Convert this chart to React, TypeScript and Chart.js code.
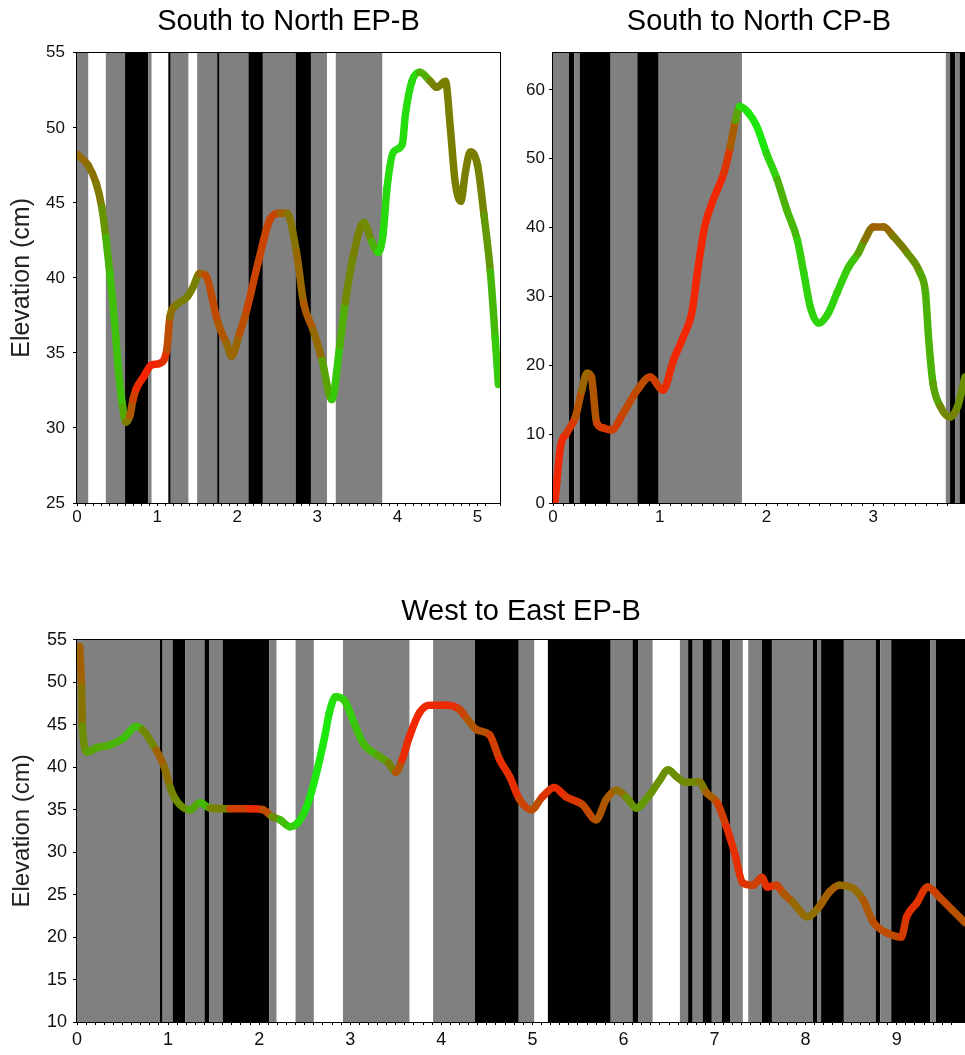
import React, { useEffect, useRef } from "react";
import { Chart, registerables } from "chart.js";
Chart.register(...registerables);

const FONT = "'Liberation Sans', Arial, Helvetica, sans-serif";

// ---------- South to North EP-B ----------
const snEpX = [0.01, 0.14, 0.24, 0.31, 0.36, 0.41, 0.47, 0.52, 0.57, 0.61,
  0.66, 0.70, 0.74, 0.83, 0.93, 1.03, 1.12, 1.16, 1.24, 1.37,
  1.45, 1.53, 1.60, 1.76, 1.87, 1.93, 2.03, 2.12, 2.26, 2.41,
  2.53, 2.62, 2.74, 2.83, 2.95, 3.06, 3.18, 3.28, 3.35, 3.45,
  3.58, 3.68, 3.76, 3.82, 3.87, 3.95, 4.06, 4.10, 4.18, 4.28,
  4.41, 4.49, 4.60, 4.66, 4.72, 4.79, 4.85, 4.91, 5.00, 5.08,
  5.16, 5.22, 5.26];
const snEpY = [48.2, 47.5, 46.3, 44.7, 42.7, 40.3, 37.0, 33.7, 31.4, 30.4,
  30.8, 31.9, 32.6, 33.4, 34.2, 34.3, 35.2, 37.4, 38.2, 38.7,
  39.4, 40.3, 40.2, 37.0, 35.6, 34.8, 36.3, 37.9, 41.0, 43.9,
  44.3, 44.3, 41.7, 38.3, 36.5, 34.5, 31.9, 35.5, 38.4, 41.5,
  43.7, 42.4, 41.7, 42.9, 46.0, 48.4, 48.9, 50.9, 53.1, 53.7,
  53.1, 52.7, 53.1, 50.0, 46.4, 45.1, 47.1, 48.4, 47.5, 44.2,
  40.4, 36.0, 32.9];
const snEpTone = [0.38, 0.42, 0.45, 0.50, 0.70, 0.80, 0.82, 0.82, 0.80, 0.60,
  0.35, 0.25, 0.12, 0.03, 0.03, 0.05, 0.15, 0.35, 0.50, 0.50,
  0.52, 0.50, 0.22, 0.25, 0.35, 0.45, 0.30, 0.22, 0.20, 0.20,
  0.22, 0.45, 0.45, 0.32, 0.30, 0.50, 0.85, 0.85, 0.60, 0.50,
  0.52, 0.60, 0.90, 0.92, 0.95, 0.95, 0.95, 0.95, 0.95, 0.90,
  0.55, 0.50, 0.50, 0.50, 0.50, 0.50, 0.50, 0.50, 0.50, 0.55,
  0.70, 0.85, 0.88];
const snEpBandEdges = [0, 0.14, 0.36, 0.60, 0.89, 0.93, 1.14, 1.17, 1.39, 1.50,
  1.75, 1.78, 2.14, 2.32, 2.73, 2.92, 3.12, 3.23, 3.81, 5.28];
const snEpBandShades = ["g", "w", "g", "b", "g", "w", "b", "g", "w", "g",
  "b", "g", "b", "g", "b", "g", "w", "g", "w"];

// ---------- South to North CP-B ----------
const snCpX = [0.02, 0.07, 0.13, 0.21, 0.27, 0.32, 0.36, 0.41, 0.47, 0.55,
  0.66, 0.79, 0.91, 1.03, 1.13, 1.22, 1.30, 1.36, 1.42, 1.50,
  1.60, 1.66, 1.71, 1.75, 1.83, 1.91, 2.00, 2.10, 2.19, 2.29,
  2.35, 2.41, 2.49, 2.58, 2.66, 2.77, 2.86, 2.92, 3.00, 3.10,
  3.19, 3.32, 3.44, 3.49, 3.52, 3.56, 3.63, 3.72, 3.79, 3.86];
const snCpY = [0.4, 8.1, 10.2, 12.5, 16.4, 18.9, 18.3, 11.6, 10.9, 10.6,
  13.1, 16.4, 18.3, 16.4, 20.8, 24.1, 27.6, 34.3, 40.1, 44.0,
  47.9, 51.7, 55.6, 57.6, 56.7, 54.7, 50.8, 47.0, 42.6, 38.2,
  33.4, 28.5, 26.1, 27.6, 30.5, 34.3, 36.3, 38.2, 40.1, 40.1,
  38.7, 36.3, 33.4, 30.5, 23.7, 17.4, 14.0, 12.5, 14.0, 18.3];
const snCpTone = [0.05, 0.05, 0.08, 0.20, 0.35, 0.40, 0.35, 0.25, 0.15, 0.15,
  0.20, 0.25, 0.25, 0.10, 0.05, 0.05, 0.05, 0.05, 0.05, 0.05,
  0.05, 0.20, 0.45, 0.90, 1.00, 1.00, 1.00, 0.80, 0.70, 0.85,
  0.90, 0.90, 0.90, 0.90, 0.90, 0.85, 0.80, 0.55, 0.35, 0.35,
  0.45, 0.55, 0.65, 0.75, 0.75, 0.75, 0.60, 0.50, 0.55, 0.60];
const snCpBandEdges = [0, 0.15, 0.20, 0.25, 0.54, 0.79, 0.99, 1.77, 3.68, 3.72,
  3.77, 3.81, 3.86];
const snCpBandShades = ["g", "b", "g", "b", "g", "b", "g", "w", "g", "b", "g", "b"];

// ---------- West to East EP-B ----------
const weEpX = [0.03, 0.05, 0.06, 0.11, 0.22, 0.36, 0.51, 0.65, 0.72, 0.87,
  0.96, 1.02, 1.09, 1.24, 1.35, 1.46, 1.68, 1.90, 2.04, 2.14,
  2.23, 2.34, 2.42, 2.52, 2.61, 2.72, 2.77, 2.84, 2.94, 3.05,
  3.15, 3.30, 3.42, 3.50, 3.57, 3.65, 3.76, 3.87, 4.06, 4.20,
  4.29, 4.39, 4.53, 4.64, 4.75, 4.86, 4.99, 5.11, 5.24, 5.37,
  5.55, 5.70, 5.81, 5.92, 6.03, 6.14, 6.29, 6.40, 6.49, 6.58,
  6.69, 6.83, 6.91, 7.03, 7.13, 7.22, 7.31, 7.42, 7.52, 7.58,
  7.68, 7.75, 7.86, 8.02, 8.15, 8.26, 8.37, 8.51, 8.63, 8.74,
  8.89, 9.05, 9.11, 9.22, 9.34, 9.47, 9.61, 9.75];
const weEpY = [54.2, 49.5, 44.8, 41.8, 42.3, 42.6, 43.4, 44.8, 44.4, 42.0,
  40.0, 37.7, 36.1, 35.0, 35.8, 35.2, 35.1, 35.1, 35.0, 34.2,
  33.8, 33.0, 33.4, 35.3, 38.5, 43.6, 46.4, 48.3, 47.8, 45.0,
  42.7, 41.4, 40.5, 39.4, 40.9, 43.6, 46.4, 47.3, 47.3, 46.8,
  45.6, 44.4, 43.8, 40.9, 38.9, 36.2, 35.0, 36.5, 37.6, 36.5,
  35.6, 33.8, 36.2, 37.3, 36.5, 35.2, 36.8, 38.5, 39.7, 38.9,
  38.2, 38.3, 37.0, 35.8, 33.0, 29.9, 26.4, 26.1, 27.0, 25.9,
  26.1, 25.2, 24.1, 22.4, 23.6, 25.3, 26.1, 25.8, 24.4, 21.8,
  20.5, 20.0, 22.4, 24.0, 25.9, 24.7, 23.2, 21.7];
const weEpTone = [0.30, 0.40, 0.50, 0.65, 0.70, 0.72, 0.78, 0.85, 0.75, 0.35,
  0.35, 0.50, 0.55, 0.60, 0.80, 0.75, 0.30, 0.05, 0.10, 0.40,
  0.75, 0.85, 0.90, 1.00, 1.00, 1.00, 1.00, 0.95, 0.90, 0.85,
  0.80, 0.75, 0.60, 0.45, 0.10, 0.05, 0.05, 0.08, 0.05, 0.10,
  0.30, 0.30, 0.25, 0.10, 0.08, 0.10, 0.30, 0.20, 0.05, 0.12,
  0.15, 0.30, 0.30, 0.35, 0.50, 0.65, 0.60, 0.58, 0.60, 0.58,
  0.55, 0.55, 0.40, 0.25, 0.10, 0.08, 0.10, 0.15, 0.20, 0.05,
  0.10, 0.25, 0.35, 0.45, 0.40, 0.30, 0.35, 0.45, 0.35, 0.25,
  0.25, 0.22, 0.10, 0.10, 0.15, 0.20, 0.25, 0.30];
const weEpBandEdges = [0, 0.91, 0.94, 1.05, 1.19, 1.40, 1.45, 1.60, 2.11, 2.19,
  2.40, 2.60, 2.92, 3.65, 3.91, 4.37, 4.85, 5.02, 5.17, 5.86,
  6.10, 6.16, 6.32, 6.62, 6.71, 6.76, 6.87, 6.97, 7.08, 7.17,
  7.31, 7.37, 7.52, 7.63, 8.08, 8.13, 8.17, 8.42, 8.77, 8.82,
  8.94, 9.37, 9.43, 9.75];
const weEpBandShades = ["g", "b", "g", "b", "g", "b", "g", "b", "g", "w",
  "g", "w", "g", "w", "g", "b", "g", "w", "b", "g",
  "b", "g", "w", "g", "b", "g", "b", "g", "b", "g",
  "w", "g", "b", "g", "b", "g", "b", "g", "b", "g",
  "b", "g", "b"];

const titles = ["South to North EP-B", "South to North CP-B", "West to East EP-B"];
const yAxisTitle = "Elevation (cm)";

const SHADE: Record<string, string> = { g: "#808080", b: "#000000", w: "#ffffff" };
const RED = [255, 28, 0];
const OLIVE = [122, 126, 0];
const GREEN = [28, 232, 14];

function mix(t: number): string {
  const tt = Math.max(0, Math.min(1, t));
  let a = RED, b = OLIVE, f = tt * 2;
  if (tt > 0.5) { a = OLIVE; b = GREEN; f = (tt - 0.5) * 2; }
  const c = a.map((v, i) => Math.round(v + (b[i] - v) * f));
  return `rgb(${c[0]},${c[1]},${c[2]})`;
}

function bandsPlugin(edges: number[], shades: string[]) {
  return {
    id: "bands",
    beforeDatasetsDraw(chart: any) {
      const { ctx, chartArea: a } = chart;
      const x = chart.scales.x;
      ctx.save();
      ctx.beginPath();
      ctx.rect(a.left, a.top, a.right - a.left, a.bottom - a.top);
      ctx.clip();
      for (let i = 0; i < shades.length; i++) {
        if (shades[i] === "w") continue;
        const x0 = x.getPixelForValue(edges[i]);
        const x1 = x.getPixelForValue(edges[i + 1]);
        ctx.fillStyle = SHADE[shades[i]];
        ctx.fillRect(x0, a.top, x1 - x0, a.bottom - a.top);
      }
      ctx.restore();
    },
    afterDraw(chart: any) {
      const { ctx, chartArea: a } = chart;
      ctx.save();
      ctx.strokeStyle = "#000";
      ctx.lineWidth = 1;
      ctx.strokeRect(Math.round(a.left) - 0.5, Math.round(a.top) - 0.5,
        Math.round(a.right - a.left) + 1, Math.round(a.bottom - a.top) + 1);
      ctx.restore();
    },
  };
}

interface PanelSpec {
  title: string;
  xs: number[]; ys: number[]; tones: number[];
  edges: number[]; shades: string[];
  xMax: number; yMin: number; yMax: number; yStep: number;
  yAxisW: number; xAxisH: number; titleTop: number; titleBottom: number;
  yTitle: boolean; yTitleSize: number; yTitlePad: number;
  yTickPad: number; xTickPad: number; tickFont: number;
}

function buildConfig(p: PanelSpec): any {
  const isInt = (v: number) => Math.abs(v - Math.round(v)) < 1e-6;
  return {
    type: "line",
    data: {
      datasets: [{
        data: p.xs.map((x, i) => ({ x, y: p.ys[i] })),
        borderWidth: 7.5,
        pointRadius: 0,
        cubicInterpolationMode: "monotone",
        borderCapStyle: "round",
        borderJoinStyle: "round",
        borderColor: mix(p.tones[0]),
        segment: {
          borderColor: (ctx: any) => mix((p.tones[ctx.p0DataIndex] + p.tones[ctx.p1DataIndex]) / 2),
        },
      }],
    },
    options: {
      responsive: false,
      animation: false,
      events: [],
      layout: { padding: { left: 0, right: 10, top: 0, bottom: 0 } },
      plugins: {
        legend: { display: false },
        tooltip: { enabled: false },
        title: {
          display: true, text: p.title, fullSize: false, color: "#000",
          font: { family: FONT, size: 29, weight: "normal", lineHeight: 1.2 },
          padding: { top: p.titleTop, bottom: p.titleBottom },
        },
      },
      scales: {
        x: {
          type: "linear", min: 0, max: p.xMax,
          afterFit: (s: any) => { s.height = p.xAxisH; },
          grid: { drawOnChartArea: false, tickLength: 3, color: "#000", tickColor: "#000" },
          border: { display: true, color: "#000", width: 1 },
          ticks: {
            stepSize: 0.1, autoSkip: false, maxRotation: 0, minRotation: 0,
            padding: p.xTickPad, color: "#111",
            font: { family: FONT, size: p.tickFont },
            callback: (v: number) => (isInt(v) ? String(Math.round(v)) : ""),
          },
        },
        y: {
          type: "linear", min: p.yMin, max: p.yMax,
          afterFit: (s: any) => { s.width = p.yAxisW; },
          grid: { drawOnChartArea: false, tickLength: 4, color: "#000", tickColor: "#000" },
          border: { display: true, color: "#000", width: 1 },
          ticks: {
            stepSize: p.yStep, includeBounds: false, padding: p.yTickPad, color: "#111",
            font: { family: FONT, size: p.tickFont },
            callback: (v: number) => (Math.abs(v % p.yStep) < 1e-6 ? String(v) : ""),
          },
          title: {
            display: p.yTitle, text: yAxisTitle, color: "#222",
            font: { family: FONT, size: p.yTitleSize, lineHeight: 1.2 },
            padding: { top: p.yTitlePad, bottom: 0 },
          },
        },
      },
    },
    plugins: [bandsPlugin(p.edges, p.shades)],
  };
}

const panels: { left: number; top: number; w: number; h: number; spec: PanelSpec }[] = [
  {
    left: 0, top: 0, w: 510, h: 530,
    spec: {
      title: titles[0], xs: snEpX, ys: snEpY, tones: snEpTone,
      edges: snEpBandEdges, shades: snEpBandShades,
      xMax: 5.28, yMin: 25, yMax: 55, yStep: 5,
      yAxisW: 77, xAxisH: 27, titleTop: 5, titleBottom: 13,
      yTitle: true, yTitleSize: 25, yTitlePad: 7,
      yTickPad: 8, xTickPad: 1, tickFont: 17,
    },
  },
  {
    left: 500, top: 0, w: 475, h: 530,
    spec: {
      title: titles[1], xs: snCpX, ys: snCpY, tones: snCpTone,
      edges: snCpBandEdges, shades: snCpBandShades,
      xMax: 3.86, yMin: 0, yMax: 65.4, yStep: 10,
      yAxisW: 53, xAxisH: 27, titleTop: 5, titleBottom: 13,
      yTitle: false, yTitleSize: 25, yTitlePad: 7,
      yTickPad: 4, xTickPad: 1, tickFont: 17,
    },
  },
  {
    left: 0, top: 580, w: 975, h: 475,
    spec: {
      title: titles[2], xs: weEpX, ys: weEpY, tones: weEpTone,
      edges: weEpBandEdges, shades: weEpBandShades,
      xMax: 9.75, yMin: 10, yMax: 55, yStep: 5,
      yAxisW: 77, xAxisH: 33, titleTop: 15, titleBottom: 10,
      yTitle: true, yTitleSize: 24, yTitlePad: 8,
      yTickPad: 6, xTickPad: 4, tickFont: 18,
    },
  },
];

function Panel({ left, top, w, h, spec }: { left: number; top: number; w: number; h: number; spec: PanelSpec }) {
  const ref = useRef<HTMLCanvasElement | null>(null);
  useEffect(() => {
    if (!ref.current) return;
    const chart = new Chart(ref.current, buildConfig(spec));
    return () => chart.destroy();
  }, []);
  return (
    <canvas ref={ref} width={w} height={h}
      style={{ position: "absolute", left, top, width: w, height: h }} />
  );
}

export default function App() {
  return (
    <div style={{ position: "absolute", left: 0, top: 0, width: 965, height: 1055, overflow: "hidden", background: "#fff" }}>
      {panels.map((p, i) => (
        <Panel key={i} {...p} />
      ))}
    </div>
  );
}
